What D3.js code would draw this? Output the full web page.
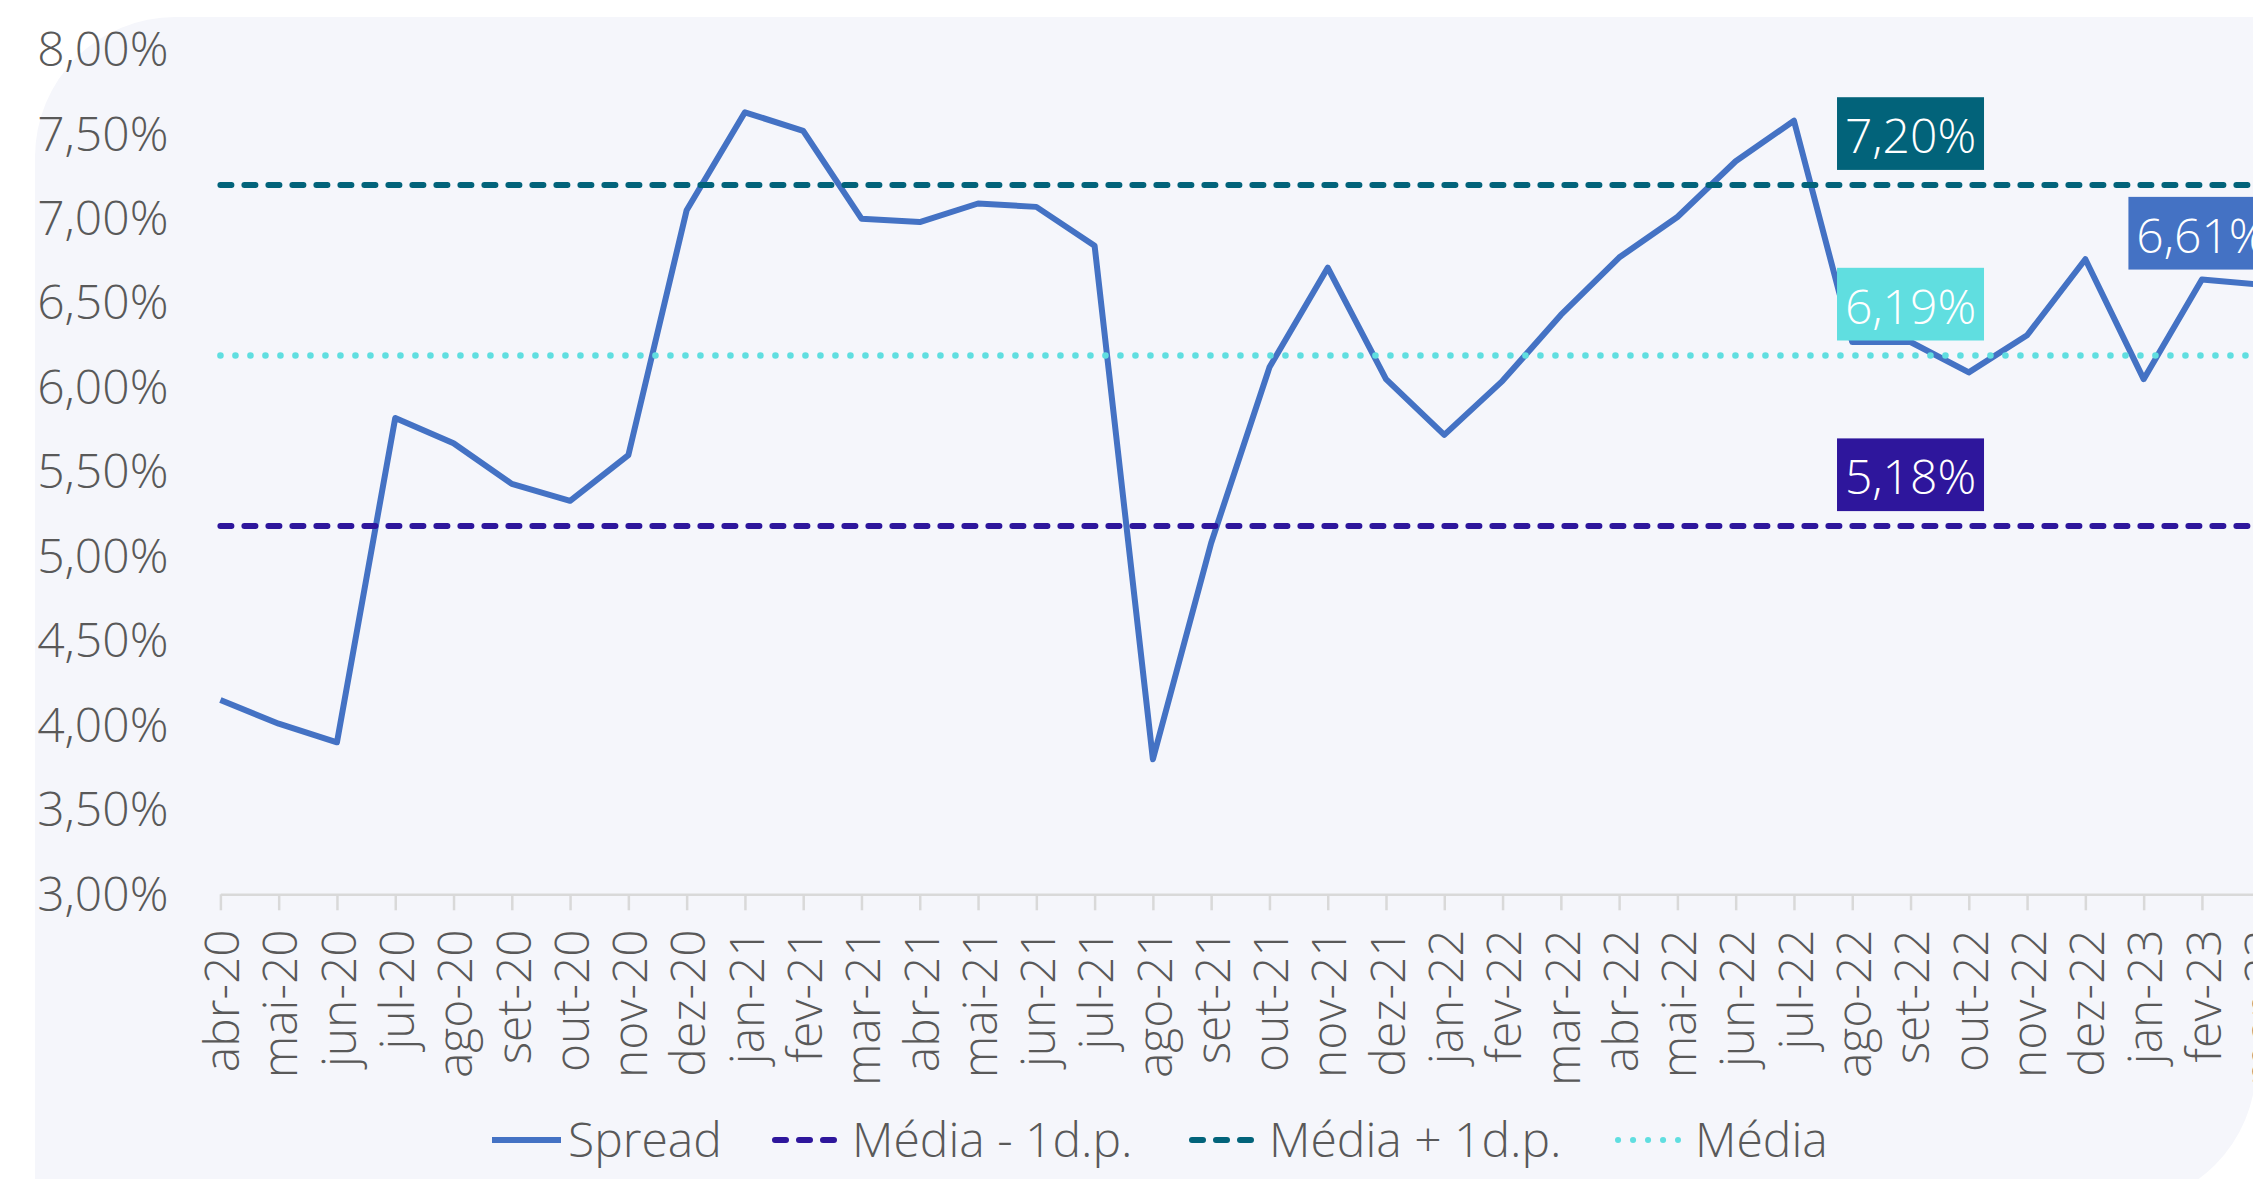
<!DOCTYPE html>
<html>
<head>
<meta charset="utf-8">
<script src="https://cdn.jsdelivr.net/npm/d3@7"></script>
<style>
  body { margin: 0; background: #ffffff; }
  svg { display: block; }
  svg text { font-family: "Open Sans", sans-serif; font-weight: 300; }
</style>
</head>
<body>
<div id="chart"></div>
<script>
// data
var months = ["abr-20", "mai-20", "jun-20", "jul-20", "ago-20", "set-20", "out-20", "nov-20", "dez-20",
  "jan-21", "fev-21", "mar-21", "abr-21", "mai-21", "jun-21", "jul-21", "ago-21", "set-21", "out-21",
  "nov-21", "dez-21", "jan-22", "fev-22", "mar-22", "abr-22", "mai-22", "jun-22", "jul-22", "ago-22",
  "set-22", "out-22", "nov-22", "dez-22", "jan-23", "fev-23", "mar-23"];
var spread = [4.15, 4.01, 3.90, 5.82, 5.67, 5.43, 5.33, 5.60, 7.05,
  7.63, 7.52, 7.00, 6.98, 7.09, 7.07, 6.84, 3.80, 5.08, 6.12,
  6.71, 6.05, 5.72, 6.04, 6.43, 6.77, 7.01, 7.34, 7.58, 6.27,
  6.27, 6.09, 6.31, 6.76, 6.05, 6.64, 6.61];
var statNames = ["Média - 1d.p.", "Média + 1d.p.", "Média"];
var statValues = [5.18, 7.20, 6.19];
var statColors = ["#2e169c", "#02637a", "#60dee0"];
var statDash = ["11,13", "11,13", "0.1,14.9"];
var yTicks = [3, 3.5, 4, 4.5, 5, 5.5, 6, 6.5, 7, 7.5, 8];
var labelMonth = "set-22"; // where the stat labels sit

var spreadColor = "#4472c4";
var textColor = "#595959";

// Set up chart
var svgWidth = 2253;
var svgHeight = 1179;
var fontSize = 48;

var svg = d3.select("#chart")
  .append("svg")
  .attr("width", svgWidth)
  .attr("height", svgHeight)
  .style("overflow", "hidden");

// background panel, only top-left and bottom-right corners are round
var pL = 35, pT = 17, pR = 2256, pB = 1206, pr = 140;
svg.append("path")
  .attr("d", "M" + pL + "," + (pT + pr) +
    "A" + pr + "," + pr + " 0 0 1 " + (pL + pr) + "," + pT +
    "H" + pR + "V" + (pB - pr) +
    "A" + pr + "," + pr + " 0 0 1 " + (pR - pr) + "," + pB +
    "H" + pL + "Z")
  .attr("fill", "#f5f6fb");

var x = d3.scalePoint()
  .domain(months)
  .range([220.4, 2260.2]);

var y = d3.scaleLinear()
  .domain([3, 8])
  .range([894.3, 49.8]);

var fmt = function(d) { return d.toFixed(2).replace(".", ",") + "%"; };

// y axis (labels only)
var yAxis = svg.append("g")
  .attr("transform", "translate(" + x(months[0]) + ",0)")
  .call(d3.axisLeft(y).tickValues(yTicks).tickFormat(fmt).tickSize(0).tickPadding(52))
  .attr("font-family", null)
  .attr("font-size", null);
yAxis.select(".domain").remove();
yAxis.selectAll("text")
  .attr("font-size", fontSize)
  .attr("fill", textColor)
  .attr("dy", "0.33em");

// x axis
var xAxis = svg.append("g")
  .attr("transform", "translate(0," + y(3) + ")")
  .call(d3.axisBottom(x).tickSize(16).tickSizeOuter(0))
  .attr("font-family", null)
  .attr("font-size", null);
xAxis.select(".domain").attr("stroke", "#d9d9d9").attr("stroke-width", 2.5);
xAxis.selectAll(".tick line").attr("stroke", "#d9d9d9").attr("stroke-width", 2.5);
xAxis.selectAll("text")
  .attr("font-size", fontSize)
  .attr("fill", textColor)
  .attr("transform", "rotate(-90)")
  .attr("text-anchor", "end")
  .attr("x", -35)
  .attr("y", 0)
  .attr("dy", "0.38em");

// spread line
var line = d3.line()
  .x(function(d, i) { return x(months[i]); })
  .y(function(d) { return y(d); });

svg.append("path")
  .datum(spread)
  .attr("d", line)
  .attr("fill", "none")
  .attr("stroke", spreadColor)
  .attr("stroke-width", 6)
  .attr("stroke-linejoin", "round");

// mean and +/- 1 std dev lines
statValues.forEach(function(v, i) {
  svg.append("path")
    .datum(months.map(function() { return v; }))
    .attr("d", line)
    .attr("fill", "none")
    .attr("stroke", statColors[i])
    .attr("stroke-width", i == 2 ? 6.5 : 6)
    .attr("stroke-linecap", "round")
    .attr("stroke-dasharray", statDash[i]);
});

// data labels
var boxW = 147, boxH = 72.7, boxGap = 15;
function dataLabel(cx, cy, txt, color) {
  var g = svg.append("g");
  g.append("rect")
    .attr("x", cx - boxW / 2)
    .attr("y", cy - boxGap - boxH)
    .attr("width", boxW)
    .attr("height", boxH)
    .attr("fill", color);
  g.append("text")
    .attr("x", cx)
    .attr("y", cy - boxGap - 17)
    .attr("text-anchor", "middle")
    .attr("font-size", fontSize)
    .attr("fill", "#ffffff")
    .text(txt);
}

statValues.forEach(function(v, i) {
  dataLabel(x(labelMonth), y(v), fmt(v), statColors[i]);
});
// last spread value, label pushed one step to the left
var last = spread.length - 1;
dataLabel(x(months[last]) - x.step(), y(spread[last]), fmt(spread[last]), spreadColor);

// legend
var legendY = 1140;
var legendItems = [
  {name: "Spread", color: spreadColor, dash: null, x: 492},
  {name: statNames[0], color: statColors[0], dash: statDash[0], x: 775},
  {name: statNames[1], color: statColors[1], dash: statDash[1], x: 1192},
  {name: statNames[2], color: statColors[2], dash: statDash[2], x: 1618}
];

var legend = svg.append("g");
legendItems.forEach(function(d) {
  var g = legend.append("g").attr("transform", "translate(" + d.x + "," + legendY + ")");
  if (d.dash) {
    g.append("line")
      .attr("x1", 0).attr("x2", 60)
      .attr("stroke", d.color)
      .attr("stroke-width", 6)
      .attr("stroke-linecap", "round")
      .attr("stroke-dasharray", d.dash);
  } else {
    g.append("line")
      .attr("x1", 0).attr("x2", 69)
      .attr("stroke", d.color)
      .attr("stroke-width", 6);
  }
  g.append("text")
    .attr("x", d.dash ? 77 : 76)
    .attr("y", 17)
    .attr("font-size", fontSize)
    .attr("fill", textColor)
    .text(d.name);
});
</script>
</body>
</html>
